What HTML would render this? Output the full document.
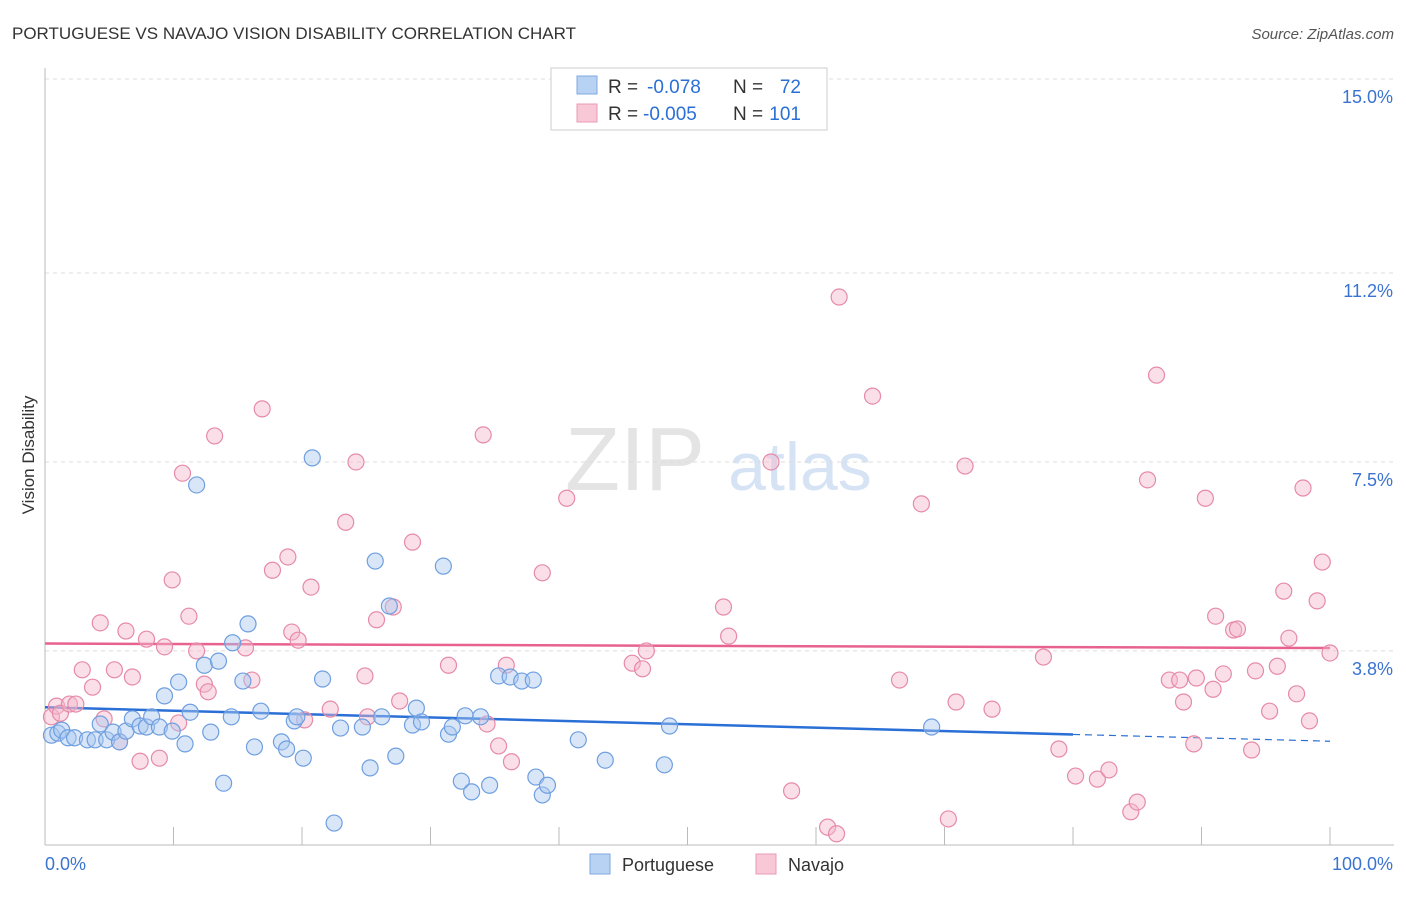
<!DOCTYPE html>
<html><head><meta charset="utf-8"><style>
body{margin:0;background:#fff;font-family:"Liberation Sans",sans-serif;}
svg text{font-family:"Liberation Sans",sans-serif;}
</style></head><body>
<svg id="chart" width="1406" height="892">
<text x="12" y="39" font-size="17" fill="#333">PORTUGUESE VS NAVAJO VISION DISABILITY CORRELATION CHART</text>
<text x="1394" y="39" font-size="15" fill="#555" text-anchor="end" font-style="italic">Source: ZipAtlas.com</text>
<text x="34" y="455" font-size="17" fill="#333" text-anchor="middle" transform="rotate(-90 34 455)">Vision Disability</text>
<g>
<text x="635" y="490" font-size="90" fill="#e4e4e4" text-anchor="middle" font-family="Liberation Serif">ZIP</text>
<text x="800" y="490" font-size="68" fill="#d6e3f5" text-anchor="middle">atlas</text>
</g>
<g id="grid"></g><g id="axes"></g><g id="lines"></g><g id="pts"></g>
<g>
<rect x="551" y="68" width="276" height="62" fill="#fff" stroke="#ccc"/>
<rect x="577" y="76" width="20" height="18" fill="#b8d2f3" stroke="#7fa8e0"/>
<rect x="577" y="104" width="20" height="18" fill="#f8c8d7" stroke="#e89ab4"/>
<text x="608" y="93" font-size="19" fill="#333">R =</text>
<text x="647" y="93" font-size="19" fill="#2a6fd6">-0.078</text>
<text x="733" y="93" font-size="19" fill="#333">N =</text>
<text x="801" y="93" font-size="19" fill="#2a6fd6" text-anchor="end">72</text>
<text x="608" y="120" font-size="19" fill="#333">R =</text>
<text x="643" y="120" font-size="19" fill="#2a6fd6">-0.005</text>
<text x="733" y="120" font-size="19" fill="#333">N =</text>
<text x="801" y="120" font-size="19" fill="#2a6fd6" text-anchor="end">101</text>
</g>
<g>
<rect x="590" y="854" width="20" height="20" fill="#b8d2f3" stroke="#7fa8e0"/>
<text x="622" y="871" font-size="18" fill="#333">Portuguese</text>
<rect x="756" y="854" width="20" height="20" fill="#f8c8d7" stroke="#e89ab4"/>
<text x="788" y="871" font-size="18" fill="#333">Navajo</text>
</g>
</svg>
<script>
const yTicks=[15.0,11.2,7.5,3.8];
const yTickLabels=["15.0%","11.2%","7.5%","3.8%"];
const xTickLabels=["0.0%","100.0%"];
const blueX=[0.5,1.0,1.3,1.8,2.3,3.3,3.9,4.3,4.8,5.3,5.8,6.3,6.8,7.4,7.9,8.3,8.9,9.3,9.9,10.4,10.9,11.3,11.8,12.4,12.9,13.5,13.9,14.5,14.6,15.4,15.8,16.3,16.8,18.4,18.8,19.4,19.6,20.1,20.8,21.6,22.5,23.0,24.7,25.3,25.7,26.2,26.8,27.3,28.6,28.9,29.3,31.0,31.4,31.7,32.4,32.7,33.2,33.9,34.6,35.3,36.2,37.1,38.0,38.2,38.7,39.1,41.5,43.6,48.2,48.6,69.0];
const blueY=[2.15,2.19,2.25,2.10,2.10,2.06,2.06,2.37,2.06,2.21,2.02,2.23,2.47,2.33,2.31,2.51,2.31,2.92,2.23,3.19,1.98,2.60,7.05,3.52,2.21,3.60,1.21,2.51,3.96,3.21,4.33,1.92,2.62,2.02,1.88,2.43,2.51,1.70,7.58,3.25,0.43,2.29,2.31,1.51,5.56,2.51,4.68,1.74,2.35,2.68,2.41,5.46,2.17,2.31,1.25,2.53,1.04,2.51,1.17,3.31,3.29,3.21,3.23,1.33,0.98,1.17,2.06,1.66,1.57,2.33,2.31];
const pinkX=[0.5,0.9,1.2,1.9,2.4,2.9,3.7,4.3,4.6,5.4,5.8,6.3,6.8,7.4,7.9,8.9,9.3,9.9,10.4,10.7,11.2,11.8,12.4,12.7,13.2,15.6,16.1,16.9,17.7,18.9,19.2,19.7,20.2,20.7,22.2,23.4,24.2,24.9,25.1,25.8,27.1,27.6,28.6,31.4,34.1,34.4,35.3,35.9,36.3,38.7,40.6,45.7,46.5,46.8,52.8,53.2,56.5,58.1,60.9,61.6,61.8,64.4,66.5,68.2,70.3,70.9,71.6,73.7,77.7,78.9,80.2,81.9,82.8,84.5,85.0,85.8,86.5,87.5,88.3,88.6,89.4,89.6,90.3,90.9,91.1,91.7,92.5,92.8,93.9,94.2,95.3,95.9,96.4,96.8,97.4,97.9,98.4,99.0,99.4,100];
const pinkY=[2.51,2.72,2.58,2.76,2.76,3.43,3.09,4.35,2.47,3.43,2.02,4.19,3.29,1.64,4.03,1.70,3.88,5.19,2.39,7.28,4.48,3.80,3.15,3.00,8.01,3.86,3.23,8.54,5.38,5.64,4.17,4.01,2.45,5.05,2.66,6.32,7.50,3.31,2.51,4.41,4.66,2.82,5.93,3.52,8.03,2.37,1.94,3.52,1.63,5.33,6.79,3.56,3.45,3.80,4.66,4.09,7.50,1.06,0.35,0.22,10.73,8.79,3.23,6.68,0.51,2.80,7.42,2.66,3.68,1.88,1.35,1.29,1.47,0.65,0.84,7.15,9.20,3.23,3.23,2.80,1.98,3.27,6.79,3.05,4.48,3.35,4.21,4.23,1.86,3.41,2.62,3.50,4.97,4.05,2.96,6.99,2.43,4.78,5.54,3.76];
const NS="http://www.w3.org/2000/svg";
const X=v=>45+v*12.85, Y=v=>845-v*51.07;
function mk(t,a,p){const e=document.createElementNS(NS,t);for(const k in a)e.setAttribute(k,a[k]);p.appendChild(e);return e;}
const grid=document.getElementById('grid'),axes=document.getElementById('axes'),lines=document.getElementById('lines'),pts=document.getElementById('pts');
yTicks.forEach((t,i)=>{
 const g=mk('line',{x1:45,x2:1394,y1:Y(t),y2:Y(t),stroke:'#ddd','stroke-dasharray':'4,4'},grid);
 
 
 const l=mk('text',{x:1393,y:Y(t)+24,'font-size':18,fill:'#3a73d0','text-anchor':'end'},axes);
 l.textContent=yTickLabels[i];
 
 
});
mk('line',{x1:45,x2:45,y1:68,y2:845,stroke:'#bbb'},axes);
mk('line',{x1:45,x2:1394,y1:845,y2:845,stroke:'#bbb'},axes);
for(let i=0;i<=10;i++){mk('line',{x1:X(i*10),x2:X(i*10),y1:827,y2:845,stroke:'#bbb'},axes);}
const xl0=mk('text',{x:45,y:870,'font-size':18,fill:'#3a73d0'},axes);xl0.textContent=xTickLabels[0];


const xl1=mk('text',{x:1393,y:870,'font-size':18,fill:'#3a73d0','text-anchor':'end'},axes);xl1.textContent=xTickLabels[1];


function reg(xs,ys){const n=xs.length;let mx=0,my=0;for(let i=0;i<n;i++){mx+=xs[i];my+=ys[i];}mx/=n;my/=n;let sxy=0,sxx=0;for(let i=0;i<n;i++){sxy+=(xs[i]-mx)*(ys[i]-my);sxx+=(xs[i]-mx)**2;}const b=sxy/sxx;return v=>my+b*(v-mx);}
function dots(xs,ys,fill,stroke,name){xs.forEach((x,i)=>{const c=mk('circle',{cx:X(x),cy:Y(ys[i]),r:8,fill:fill,'fill-opacity':0.45,stroke:stroke,'stroke-width':1.2},pts);
 
 });}
dots(pinkX,pinkY,'#f5b8cb','#e68aa8','navajo-point');
dots(blueX,blueY,'#a9c8f0','#6f9fe0','portuguese-point');
const fb=reg(blueX,blueY),fp=reg(pinkX,pinkY);
const lb=mk('line',{x1:X(0),y1:Y(fb(0)),x2:X(80),y2:Y(fb(80)),stroke:'#2a6fd6','stroke-width':2.5},lines);


const lbd=mk('line',{x1:X(80),y1:Y(fb(80)),x2:X(100),y2:Y(fb(100)),stroke:'#2a6fd6','stroke-width':1.2,'stroke-dasharray':'7,5'},lines);


const lp=mk('line',{x1:X(0),y1:Y(fp(0)),x2:X(100),y2:Y(fp(100)),stroke:'#e8628f','stroke-width':2.5},lines);


</script>
</body></html>
